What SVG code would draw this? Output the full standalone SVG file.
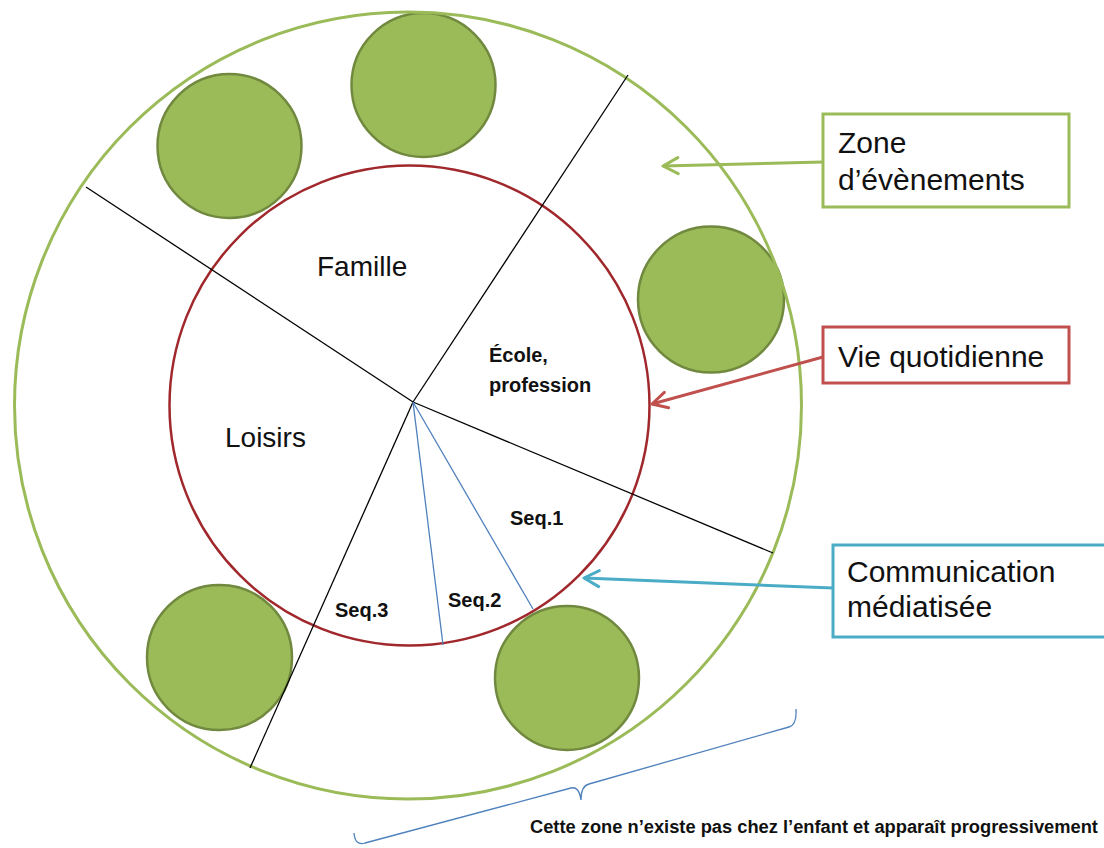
<svg xmlns="http://www.w3.org/2000/svg" width="1104" height="848" viewBox="0 0 1104 848">
  <style>
    .disk { fill: #9bbb59; stroke: #71893f; stroke-width: 2.5; }
    .spoke { stroke: #000; stroke-width: 1.3; fill: none; }
    .seqline { stroke: #4f81bd; stroke-width: 1.3; fill: none; }
    .lbl { font-family: "Liberation Sans", Arial, sans-serif; fill: #111; }
    .big { font-size: 28px; }
    .box { font-size: 30px; }
    .small { font-size: 20px; font-weight: bold; }
    .note { font-size: 18.3px; font-weight: bold; }
  </style>
  <defs>
    <marker id="arrG" viewBox="-18 -10 20 20" refX="0" refY="0" markerWidth="20" markerHeight="20" markerUnits="userSpaceOnUse" orient="auto">
      <path d="M-15,-8 L0,0 L-15,8" fill="none" stroke="#9bbb59" stroke-width="3" stroke-linecap="round" stroke-linejoin="round"/>
    </marker>
    <marker id="arrR" viewBox="-18 -10 20 20" refX="0" refY="0" markerWidth="20" markerHeight="20" markerUnits="userSpaceOnUse" orient="auto">
      <path d="M-15,-8 L0,0 L-15,8" fill="none" stroke="#c0504d" stroke-width="3" stroke-linecap="round" stroke-linejoin="round"/>
    </marker>
    <marker id="arrB" viewBox="-18 -10 20 20" refX="0" refY="0" markerWidth="20" markerHeight="20" markerUnits="userSpaceOnUse" orient="auto">
      <path d="M-15,-8 L0,0 L-15,8" fill="none" stroke="#4bacc6" stroke-width="3" stroke-linecap="round" stroke-linejoin="round"/>
    </marker>
  </defs>
  <rect x="0" y="0" width="1104" height="848" fill="#fff"/>

  <g id="vie-quotidienne-circle">
    <circle cx="409.5" cy="405.5" r="240" fill="none" stroke="#a0282c" stroke-width="2.5"/>
  </g>

  <g id="events">
    <circle id="event-1" class="disk" cx="423.5" cy="85" r="72"/>
    <circle id="event-2" class="disk" cx="229.5" cy="146" r="72"/>
    <circle id="event-3" class="disk" cx="711" cy="299.5" r="73"/>
    <circle id="event-4" class="disk" cx="219.5" cy="657.5" r="72.5"/>
    <circle id="event-5" class="disk" cx="567" cy="678" r="72"/>
  </g>

  <g id="zone-evenements-circle">
    <circle cx="408" cy="405.5" r="393.5" fill="none" stroke="#9bbb59" stroke-width="3"/>
  </g>

  <g id="sectors">
    <line class="spoke" x1="413" y1="402" x2="628" y2="75"/>
    <line class="spoke" x1="413" y1="402" x2="86" y2="187"/>
    <line class="spoke" x1="413" y1="402" x2="773" y2="553"/>
    <line class="spoke" x1="413" y1="402" x2="250" y2="768"/>
    <line class="seqline" x1="413" y1="402" x2="533" y2="609"/>
    <line class="seqline" x1="413" y1="402" x2="443" y2="645"/>
  </g>

  <g id="sector-labels">
    <text id="famille" class="lbl big" x="317" y="276">Famille</text>
    <text id="loisirs" class="lbl big" x="225" y="447">Loisirs</text>
    <text id="ecole" class="lbl small" x="489" y="362">École,</text>
    <text id="profession" class="lbl small" x="489" y="392">profession</text>
    <text id="seq1" class="lbl small" x="510" y="525">Seq.1</text>
    <text id="seq2" class="lbl small" x="448" y="607">Seq.2</text>
    <text id="seq3" class="lbl small" x="335" y="617">Seq.3</text>
  </g>

  <g id="connectors">
    <line x1="823" y1="162" x2="663" y2="166" stroke="#9bbb59" stroke-width="3" marker-end="url(#arrG)"/>
    <line x1="823" y1="357" x2="652" y2="404" stroke="#c0504d" stroke-width="3" marker-end="url(#arrR)"/>
    <line x1="833" y1="588" x2="584" y2="578" stroke="#4bacc6" stroke-width="3" marker-end="url(#arrB)"/>
  </g>

  <g id="box-zone">
    <rect x="823" y="114" width="246" height="93" fill="#fff" stroke="#9bbb59" stroke-width="3"/>
    <text class="lbl box" x="838" y="153">Zone</text>
    <text class="lbl box" x="838" y="190">d’évènements</text>
  </g>

  <g id="box-vie">
    <rect x="823" y="327" width="246" height="56" fill="#fff" stroke="#c0504d" stroke-width="3"/>
    <text class="lbl box" x="838" y="367">Vie quotidienne</text>
  </g>

  <g id="box-communication">
    <rect x="833" y="545" width="280" height="92" fill="#fff" stroke="#4bacc6" stroke-width="3"/>
    <text class="lbl box" x="847" y="582">Communication</text>
    <text class="lbl box" x="847" y="617">médiatisée</text>
  </g>

  <g id="brace-note">
    <path d="M354,833 Q355,846 365,843 L571,788 Q579,786 581,800 Q581,786 589,784 L789,727 Q797,725 796,709" fill="none" stroke="#4f81bd" stroke-width="1.3"/>
    <text class="lbl note" x="530" y="833">Cette zone n’existe pas chez l’enfant et apparaît progressivement</text>
  </g>
</svg>
